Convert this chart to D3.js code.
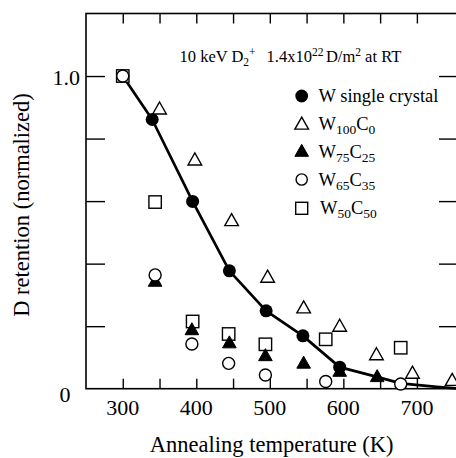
<!DOCTYPE html>
<html>
<head>
<meta charset="utf-8">
<script src="https://cdn.jsdelivr.net/npm/d3@7"></script>
<style>
  html, body { margin: 0; padding: 0; background: #fff; }
  svg { display: block; }
</style>
</head>
<body>
<script>
// ---- data ----
const wscT  = [300, 340, 395, 445, 495, 545, 595];
const wscV  = [1.0, 0.861, 0.599, 0.377, 0.249, 0.169, 0.069];
const fitT  = [300, 340, 395, 445, 495, 545, 595, 647, 678, 727, 760];
const fitV  = [1.0, 0.861, 0.599, 0.377, 0.249, 0.169, 0.069, 0.037, 0.017, 0.006, 0.0];
const w100T = [350, 398, 448, 497, 546, 595, 645, 694, 748];
const w100V = [0.894, 0.731, 0.537, 0.356, 0.258, 0.199, 0.108, 0.049, 0.026];
const w75T  = [344, 394, 445, 494, 546, 595, 646];
const w75V  = [0.343, 0.188, 0.146, 0.105, 0.081, 0.055, 0.038];
const w65T  = [300, 344, 394, 444, 494, 576, 678];
const w65V  = [1.0, 0.364, 0.143, 0.081, 0.044, 0.023, 0.015];
const w50T  = [300, 344, 395, 444, 494, 576, 678];
const w50V  = [1.0, 0.597, 0.215, 0.175, 0.142, 0.158, 0.131];
const xTicks = [300, 350, 400, 450, 500, 550, 600, 650, 700];
const xLabels = [300, 400, 500, 600, 700];
const yTicks = [0.2, 0.4, 0.6, 0.8, 1.0];
const yLabels = ["0", "1.0"];
const legendNames = [
  ["W single crystal"],
  ["W", "100", "C", "0"],
  ["W", "75", "C", "25"],
  ["W", "65", "C", "35"],
  ["W", "50", "C", "50"]
];

(function () {
const W = 456, H = 458;
const FONT = "'Liberation Serif', 'DejaVu Serif', 'Times New Roman', serif";
const svg = d3.select("body").append("svg").attr("width", W).attr("height", H)
  .attr("font-family", FONT).style("font-family", FONT);
svg.append("rect").attr("width", W).attr("height", H).attr("fill", "#fff");

const x = d3.scaleLinear().domain([250, 760]).range([86, 461]);
const y = d3.scaleLinear().domain([0, 1.2]).range([388.7, 13.5]);
const pL = x(250), pR = 458, pT = y(1.2), pB = y(0);

// ticks
const gAx = svg.append("g");
const styleAx = g => { g.select(".domain").remove(); g.selectAll("line").attr("stroke-width", 1.4); };
gAx.append("g").attr("transform", `translate(0,${pB})`)
  .call(d3.axisBottom(x).tickValues(xTicks).tickSize(-10).tickFormat("")).call(styleAx);
gAx.append("g").attr("transform", `translate(0,${pT})`)
  .call(d3.axisTop(x).tickValues(xTicks).tickSize(-10).tickFormat("")).call(styleAx);
gAx.append("g").attr("transform", `translate(${pL},0)`)
  .call(d3.axisLeft(y).tickValues(yTicks).tickSize(-19).tickFormat("")).call(styleAx);
gAx.append("g").attr("transform", `translate(${pR},0)`)
  .call(d3.axisRight(y).tickValues(yTicks).tickSize(-19).tickFormat("")).call(styleAx);

// frame
svg.append("rect").attr("x", pL).attr("y", pT)
  .attr("width", pR - pL).attr("height", pB - pT)
  .attr("fill", "none").attr("stroke", "#000").attr("stroke-width", 1.6);

const txt = svg.append("g").attr("font-family", FONT).attr("fill", "#000");

// tick labels
txt.append("g").selectAll("text").data(xLabels).join("text")
  .attr("x", d => x(d)).attr("y", 415)
  .attr("text-anchor", "middle").attr("font-size", 22).text(d => d);
txt.append("text").attr("x", 80).attr("y", 85).attr("text-anchor", "end")
  .attr("font-size", 22).text(yLabels[1]);
txt.append("text").attr("x", 65).attr("y", 401.5).attr("text-anchor", "middle")
  .attr("font-size", 22).text(yLabels[0]);

// axis titles
txt.append("text").attr("x", 271.7).attr("y", 452).attr("text-anchor", "middle")
  .attr("font-size", 22.5).text("Annealing temperature (K)");
txt.append("text").attr("transform", "translate(29,205) rotate(-90)")
  .attr("text-anchor", "middle").attr("font-size", 22.5).text("D retention (normalized)");

// annotation
const ann = txt.append("text").attr("x", 179.5).attr("y", 62).attr("font-size", 16.5);
ann.append("tspan").text("10 keV D");
ann.append("tspan").attr("font-size", 11.5).attr("dy", 4).text("2");
ann.append("tspan").attr("font-size", 11.5).attr("dy", -10).text("+");
ann.append("tspan").attr("x", 266.5).attr("dy", 6).text("1.4x10");
ann.append("tspan").attr("font-size", 11.5).attr("dy", -6).text("22");
ann.append("tspan").attr("dy", 6).attr("dx", 2.5).text("D/m");
ann.append("tspan").attr("font-size", 11.5).attr("dy", -6).text("2");
ann.append("tspan").attr("dy", 6).text(" at RT");

// markers
const tri = "M0,-7.2L6.8,4.8L-6.8,4.8Z";
const sq = 12.4;
function zip(t, v) { return t.map((d, i) => ({ t: d, v: v[i] })); }

const plot = svg.append("g");
plot.append("path").datum(zip(fitT, fitV))
  .attr("fill", "none").attr("stroke", "#000").attr("stroke-width", 2.7)
  .attr("stroke-linejoin", "round")
  .attr("d", d3.line().x(d => x(d.t)).y(d => y(d.v)).curve(d3.curveLinear));

plot.append("g").selectAll("circle").data(zip(wscT, wscV)).join("circle")
  .attr("cx", d => x(d.t)).attr("cy", d => y(d.v)).attr("r", 6.5).attr("fill", "#000");

plot.append("g").selectAll("path").data(zip(w100T, w100V)).join("path")
  .attr("transform", d => `translate(${x(d.t)},${y(d.v)})`).attr("d", tri)
  .attr("fill", "#fff").attr("stroke", "#000").attr("stroke-width", 1.4);

plot.append("g").selectAll("rect").data(zip(w50T, w50V)).join("rect")
  .attr("x", d => x(d.t) - sq / 2).attr("y", d => y(d.v) - sq / 2)
  .attr("width", sq).attr("height", sq)
  .attr("fill", "#fff").attr("stroke", "#000").attr("stroke-width", 1.4);

plot.append("g").selectAll("path").data(zip(w75T, w75V)).join("path")
  .attr("transform", d => `translate(${x(d.t)},${y(d.v)})`).attr("d", tri)
  .attr("fill", "#000").attr("stroke", "#000").attr("stroke-width", 1);

plot.append("g").selectAll("circle").data(zip(w65T, w65V)).join("circle")
  .attr("cx", d => x(d.t)).attr("cy", d => y(d.v)).attr("r", 6)
  .attr("fill", "#fff").attr("stroke", "#000").attr("stroke-width", 1.4);

// legend
const legY = [96, 124.3, 151.5, 179.5, 208.3];
const legX = 301.7;
const leg = svg.append("g");
const sym = [
  g => g.append("circle").attr("r", 6.4).attr("fill", "#000"),
  g => g.append("path").attr("d", tri).attr("fill", "#fff").attr("stroke", "#000").attr("stroke-width", 1.4),
  g => g.append("path").attr("d", tri).attr("fill", "#000").attr("stroke", "#000").attr("stroke-width", 1),
  g => g.append("circle").attr("r", 5.6).attr("fill", "#fff").attr("stroke", "#000").attr("stroke-width", 1.4),
  g => g.append("rect").attr("x", -6).attr("y", -6).attr("width", 12).attr("height", 12).attr("fill", "#fff").attr("stroke", "#000").attr("stroke-width", 1.4)
];
legendNames.forEach((parts, i) => {
  const g = leg.append("g").attr("transform", `translate(${legX},${legY[i]})`);
  sym[i](g);
  const t = txt.append("text").attr("x", i === 4 ? 320 : 318.5).attr("y", legY[i] + 6).attr("font-size", 18.5);
  if (parts.length === 1) { t.text(parts[0]); return; }
  t.append("tspan").text(parts[0]);
  t.append("tspan").attr("font-size", 13.5).attr("dy", 4).text(parts[1]);
  t.append("tspan").attr("dy", -4).text(parts[2]);
  t.append("tspan").attr("font-size", 13.5).attr("dy", 4).text(parts[3]);
});
})();
</script>
</body>
</html>
